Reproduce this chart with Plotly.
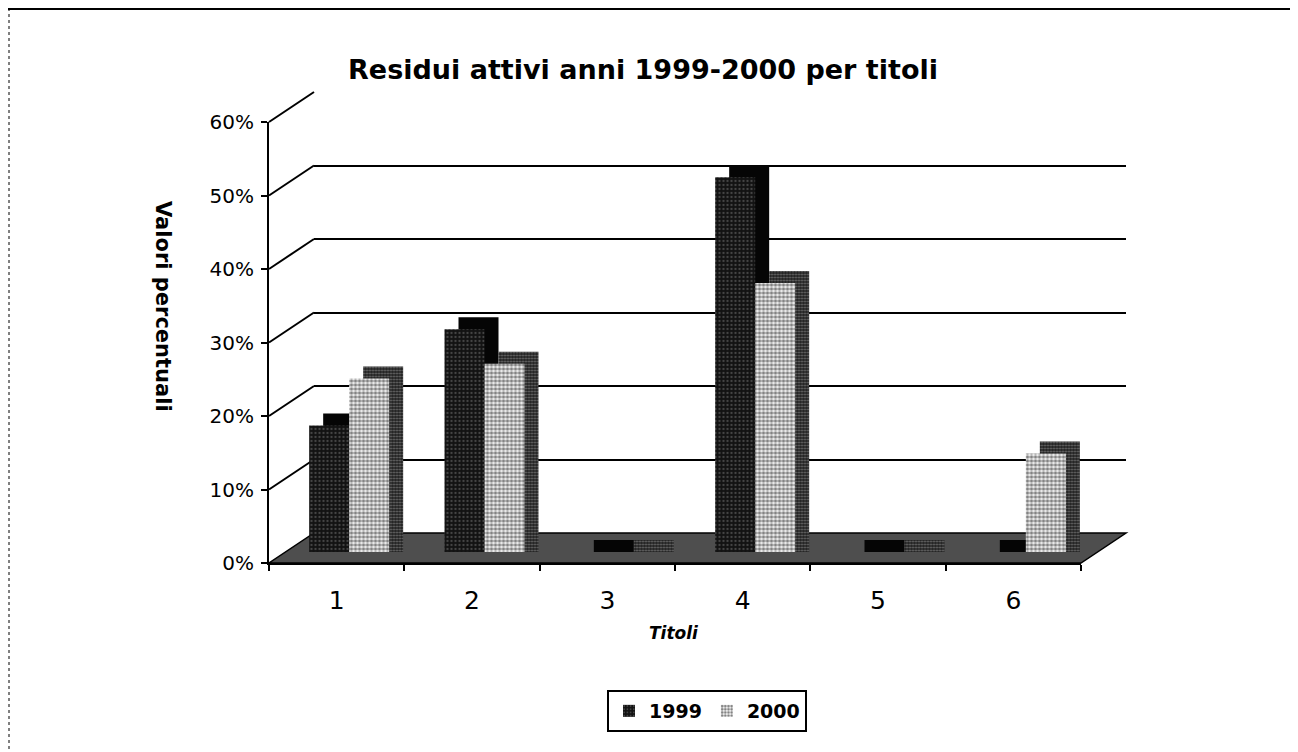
import plotly.graph_objects as go

# ---------------- data ----------------
categories = ["1", "2", "3", "4", "5", "6"]
values_1999 = [0.172, 0.303, 0.0, 0.51, 0.0, 0.0]
values_2000 = [0.236, 0.256, 0.0, 0.366, 0.0, 0.134]
series_names = ["1999", "2000"]
y_ticks = [0.0, 0.1, 0.2, 0.3, 0.4, 0.5, 0.6]
title_text = "Residui attivi anni 1999-2000 per titoli"
y_title = "Valori percentuali"
x_title = "Titoli"

# ---------------- geometry (page pixels) ----------------
OX, OY = 8, 8            # page body margin
W, H = 1290, 744         # figure size
FONT = "DejaVu Sans, Liberation Sans, Arial, sans-serif"


def px(x):
    return (x - OX) / W


def py(y):
    return 1 - (y - OY) / H


front_x = (269, 1081)
front_y = (563, 122)  # 0% , 60%
depth_dx, depth_dy = 45, 30  # back wall shift
bar_dx, bar_dy = 12.5, 11  # bar row shift
cat_px = (front_x[1] - front_x[0]) / len(categories)
unit_px = (front_y[0] - front_y[1]) / (y_ticks[-1] - y_ticks[0])

bar_w = 40 / cat_px
side_dx = 14 / cat_px
side_dy = 12 / unit_px

yr = [y_ticks[0], y_ticks[-1]]
xr = [-0.5, len(categories) - 0.5]

fig = go.Figure()

# invisible traces to activate the front axes and the back-wall axes
fig.add_trace(go.Scatter(x=categories, y=[None] * len(categories), xaxis="x", yaxis="y",
                         showlegend=False, hoverinfo="skip"))
fig.add_trace(go.Scatter(x=categories, y=[None] * len(categories), xaxis="x2", yaxis="y2",
                         showlegend=False, hoverinfo="skip"))

# side / top faces (drawn first)
fig.add_trace(go.Bar(
    x=categories, y=[v + side_dy for v in values_1999], base=0,
    offset=-bar_w + side_dx, width=bar_w,
    marker=dict(color="#050505", line=dict(width=0)),
    xaxis="x3", yaxis="y3", showlegend=False, hoverinfo="skip"))
fig.add_trace(go.Bar(
    x=categories, y=[v + side_dy for v in values_2000], base=0,
    offset=side_dx, width=bar_w,
    marker=dict(color="#1e1e1e", line=dict(width=0),
                pattern=dict(shape=".", fgcolor="#bdbdbd", size=3, solidity=0.4)),
    xaxis="x3", yaxis="y3", showlegend=False, hoverinfo="skip"))

# front faces
fig.add_trace(go.Bar(
    x=categories, y=values_1999, name=series_names[0],
    offset=-bar_w, width=bar_w,
    marker=dict(color="#121212", line=dict(width=0),
                pattern=dict(shape=".", fgcolor="#7a7a7a", size=4, solidity=0.25)),
    xaxis="x3", yaxis="y3"))
fig.add_trace(go.Bar(
    x=categories, y=values_2000, name=series_names[1],
    offset=0, width=bar_w,
    marker=dict(color="#f4f4f4", line=dict(width=0),
                pattern=dict(shape=".", fgcolor="#111111", size=4, solidity=0.6)),
    xaxis="x3", yaxis="y3"))

fig.update_layout(barmode="overlay")

fig.update_layout(
    # front axes (labels and axis lines)
    xaxis=dict(domain=[px(front_x[0]), px(front_x[1])], anchor="y", type="category",
               range=xr, showgrid=False, zeroline=False, showline=True, linecolor="black",
               linewidth=2, ticks="outside", tickson="boundaries", ticklen=6, tickwidth=2,
               tickcolor="black", ticklabelstandoff=14, automargin=False,
               tickfont=dict(family=FONT, size=25, color="black"),
               categoryorder="array", categoryarray=categories),
    yaxis=dict(domain=[py(front_y[0]), py(front_y[1])], anchor="x", range=yr,
               tickvals=y_ticks, tickformat=".0%", showgrid=False, zeroline=False,
               showline=True, linecolor="black", linewidth=2, ticks="outside",
               ticklen=6, tickwidth=2, tickcolor="black", ticklabelstandoff=3,
               automargin=False,
               tickfont=dict(family=FONT, size=20, color="black")),
    # back wall with gridlines
    xaxis2=dict(domain=[px(front_x[0] + depth_dx), px(front_x[1] + depth_dx)], anchor="y2",
                type="category", range=xr, showticklabels=False, automargin=False,
                showgrid=False, zeroline=False, showline=False, ticks=""),
    yaxis2=dict(domain=[py(front_y[0] - depth_dy), py(front_y[1] - depth_dy)], anchor="x2",
                range=yr, tickvals=y_ticks[1:], showticklabels=False, automargin=False,
                showgrid=True, gridcolor="black", gridwidth=2, zeroline=False,
                showline=False, ticks=""),
    # bar row
    xaxis3=dict(domain=[px(front_x[0] + bar_dx), px(front_x[1] + bar_dx)], anchor="y3",
                type="category", range=xr, visible=False, automargin=False,
                categoryorder="array", categoryarray=categories),
    yaxis3=dict(domain=[py(front_y[0] - bar_dy), py(front_y[1] - bar_dy)], anchor="x3",
                range=yr, visible=False, automargin=False),
)

shapes = []
# floor
fx0, fx1 = front_x
fy = front_y[0]
shapes.append(dict(type="path", xref="paper", yref="paper", layer="below",
                   path=f"M {px(fx0)},{py(fy)} L {px(fx1)},{py(fy)} "
                        f"L {px(fx1 + depth_dx)},{py(fy - depth_dy)} "
                        f"L {px(fx0 + depth_dx)},{py(fy - depth_dy)} Z",
                   fillcolor="#4e4e4e", line=dict(color="black", width=1.5)))
# side-wall diagonals from each front tick to its back gridline
for v in y_ticks[1:]:
    yf = front_y[0] - (v - yr[0]) * unit_px
    shapes.append(dict(type="line", xref="paper", yref="paper", layer="below",
                       x0=px(fx0), y0=py(yf), x1=px(fx0 + depth_dx), y1=py(yf - depth_dy),
                       line=dict(color="black", width=2)))
# outer chart frame (top and left edges)
shapes.append(dict(type="line", xref="paper", yref="paper", x0=px(8), y0=py(9), x1=1, y1=py(9),
                   line=dict(color="black", width=2)))
shapes.append(dict(type="line", xref="paper", yref="paper", x0=px(9), y0=py(8), x1=px(9), y1=0,
                   line=dict(color="black", width=1, dash="dot")))
fig.update_layout(shapes=shapes)

fig.update_layout(
    annotations=[
        dict(text=y_title, x=px(149), y=py(306), xref="paper", yref="paper", textangle=90,
             showarrow=False, font=dict(family=FONT, size=21, color="black", weight="bold")),
        dict(text=x_title, x=px(674), y=py(645), xref="paper", yref="paper",
             showarrow=False, font=dict(family=FONT, size=17, color="black", weight="bold",
                                        style="italic")),
    ],
    title=dict(text=title_text, x=px(643), xref="paper", xanchor="center",
               y=py(70), yref="container", yanchor="middle", automargin=False,
               font=dict(family=FONT, size=27, color="black", weight="bold")),
    legend=dict(orientation="h", x=px(707), y=py(711), xanchor="center", yanchor="middle",
                xref="paper", yref="paper", bordercolor="black", borderwidth=2,
                bgcolor="white", font=dict(family=FONT, size=19, color="black", weight="bold"),
                itemwidth=30, tracegroupgap=0),
    width=W, height=H, margin=dict(l=0, r=0, t=0, b=0, autoexpand=False),
    paper_bgcolor="white", plot_bgcolor="rgba(0,0,0,0)",
    showlegend=True,
)

fig.write_html("out.html")
